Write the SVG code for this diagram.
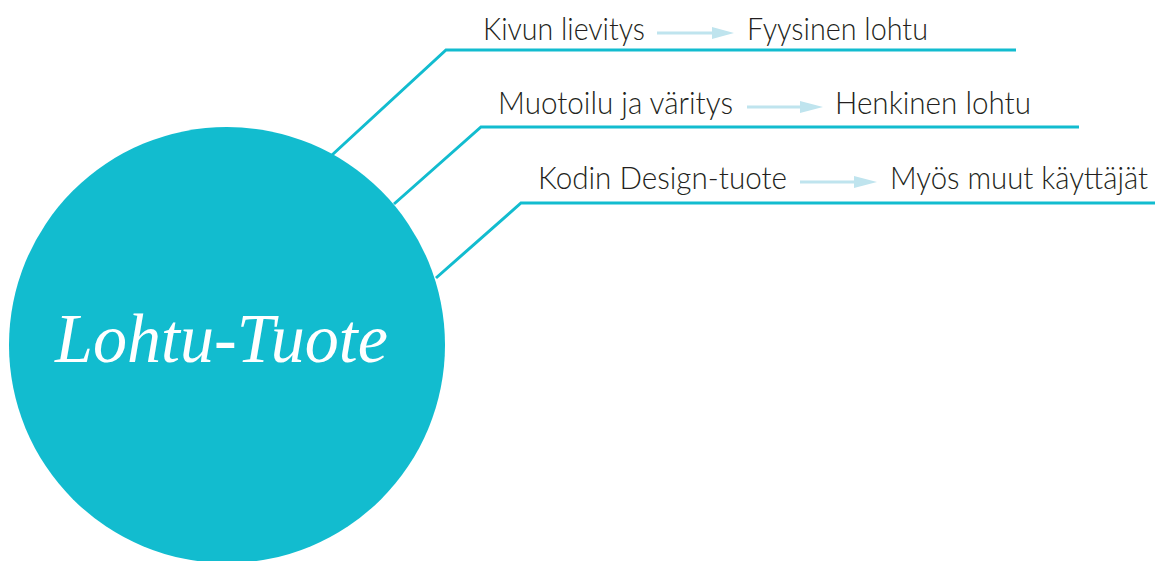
<svg xmlns="http://www.w3.org/2000/svg" width="1159" height="561" viewBox="0 0 1159 561">
<defs>
<style>
.lbl{font-family:Lato,"Liberation Sans",sans-serif;font-weight:300;font-size:31px;fill:#231f20}
.conn{fill:none;stroke:#12bccf;stroke-width:3}
.arr{stroke:#bfe4ee;stroke-width:3;fill:none}
.head{fill:#bfe4ee}
.title{font-family:"Liberation Serif","DejaVu Serif",serif;font-style:italic;font-size:70px;fill:#ffffff}
</style>
</defs>
<rect width="1159" height="561" fill="#ffffff"/>
<g id="connectors">
<polyline class="conn" points="332,155 446,50 1016,50"/>
<polyline class="conn" points="394,204 481,127 1079,127"/>
<polyline class="conn" points="436,278 521,203 1155,203"/>
</g>
<g id="hub">
<circle cx="227" cy="345" r="218" fill="#12bccf"/>
<text class="title" x="55" y="362" textLength="333" lengthAdjust="spacingAndGlyphs">Lohtu-Tuote</text>
</g>
<g id="row1">
<text class="lbl" x="483" y="40" textLength="162" lengthAdjust="spacingAndGlyphs">Kivun lievitys</text>
<line class="arr" x1="657" y1="33" x2="714" y2="33"/>
<polygon class="head" points="712,27 734,33 712,39"/>
<text class="lbl" x="747" y="40" textLength="181" lengthAdjust="spacingAndGlyphs">Fyysinen lohtu</text>
</g>
<g id="row2">
<text class="lbl" x="498" y="114" textLength="235" lengthAdjust="spacingAndGlyphs">Muotoilu ja väritys</text>
<line class="arr" x1="747" y1="107" x2="802" y2="107"/>
<polygon class="head" points="800,101 823,107 800,113"/>
<text class="lbl" x="835" y="114" textLength="196" lengthAdjust="spacingAndGlyphs">Henkinen lohtu</text>
</g>
<g id="row3">
<text class="lbl" x="538" y="189" textLength="249" lengthAdjust="spacingAndGlyphs">Kodin Design-tuote</text>
<line class="arr" x1="800" y1="182" x2="856" y2="182"/>
<polygon class="head" points="854,176 877,182 854,188"/>
<text class="lbl" x="890" y="189" textLength="258" lengthAdjust="spacingAndGlyphs">Myös muut käyttäjät</text>
</g>
</svg>
